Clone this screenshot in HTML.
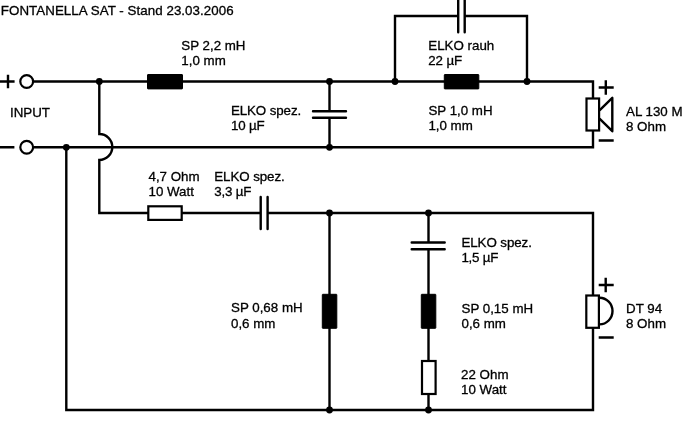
<!DOCTYPE html>
<html><head><meta charset="utf-8"><title>FONTANELLA SAT</title>
<style>
html,body{margin:0;padding:0;background:#fff;}
body{width:700px;height:421px;overflow:hidden;}
svg{display:block;will-change:transform;}
text{font-family:"Liberation Sans",Arial,sans-serif;font-size:13.33px;fill:#000;stroke:#000;stroke-width:.3;}
.w{fill:none;stroke:#000;stroke-width:2.4;stroke-linecap:butt;stroke-linejoin:miter;}
.p{fill:none;stroke:#000;stroke-width:2.4;stroke-linecap:round;}
.b{fill:#000;stroke:#000;stroke-width:1;stroke-linejoin:round;}
.r{fill:#fff;stroke:#000;stroke-width:2.2;}
.d{fill:#000;}
</style></head><body>
<svg width="700" height="421" viewBox="0 0 700 421">
<rect width="700" height="421" fill="#fff"/>
<!-- title -->
<text x="0.8" y="15" textLength="232.8">FONTANELLA SAT - Stand 23.03.2006</text>
<!-- wires -->
<path class="w" d="M33.5 81.5H593V98"/>
<path class="w" d="M33.5 147.3H593V131"/>
<path class="w" d="M99.3 81.5V134A13 13 0 0 1 99.3 160V213H148"/>
<path class="w" d="M182 213H260"/>
<path class="w" d="M268 213H593V295"/>
<path class="w" d="M66.3 147.3V410H593V328"/>
<path class="w" d="M329.5 81.5V111M329.5 118V147.3"/>
<path class="w" d="M395 81.5V16H458M465 16H527V81.5"/>
<path class="w" d="M329.5 213V410"/>
<path class="w" d="M428.5 213V242M428.5 249.5V410"/>
<!-- plus/minus input -->
<path class="w" d="M0 81.5H14.6M8 74.8V88.2M0 147.3H14.4"/>
<circle class="r" cx="26.7" cy="81.5" r="6.4"/>
<circle class="r" cx="26.7" cy="147.3" r="6.4"/>
<!-- dots -->
<circle class="d" cx="99.3" cy="81.5" r="3.4"/>
<circle class="d" cx="66.3" cy="147.3" r="3.4"/>
<circle class="d" cx="329.5" cy="81.5" r="3.4"/>
<circle class="d" cx="329.5" cy="147.3" r="3.4"/>
<circle class="d" cx="395" cy="81.5" r="3.4"/>
<circle class="d" cx="527" cy="81.5" r="3.4"/>
<circle class="d" cx="329.5" cy="213" r="3.4"/>
<circle class="d" cx="428.5" cy="213" r="3.4"/>
<circle class="d" cx="329.5" cy="410" r="3.4"/>
<circle class="d" cx="428.5" cy="410" r="3.4"/>
<!-- inductors -->
<rect class="b" x="147.5" y="74.5" width="35" height="14.4" rx="0.5"/>
<rect class="b" x="444.3" y="74.5" width="34.5" height="14.4" rx="0.5"/>
<rect class="b" x="322.3" y="294.3" width="14.5" height="34" rx="0.5"/>
<rect class="b" x="421.3" y="294.3" width="14.5" height="34" rx="0.5"/>
<!-- resistors -->
<rect class="r" x="148.3" y="206.3" width="33.4" height="13.6"/>
<rect class="r" x="422" y="361" width="13.6" height="33"/>
<!-- capacitors -->
<path class="p" d="M260.7 197V229M267.6 197V229"/>
<path class="p" d="M458.2 -2V32.3M464.7 -2V32.3"/>
<path class="p" d="M313 111.2H346M313 117.7H346"/>
<path class="p" d="M411.7 242.5H444.7M411.7 249.3H444.7"/>
<!-- woofer -->
<rect class="r" x="586.5" y="98.5" width="12.6" height="32"/>
<path class="w" style="stroke-linejoin:round" d="M599.5 110.3L612.3 97.8V131.2L599.5 118.7"/>
<path class="w" d="M598.7 87.5H613.7M605.8 80.3V94.7M598.7 140.5H613.7"/>
<!-- tweeter -->
<rect class="r" x="586.3" y="295.5" width="12.6" height="32.3"/>
<path class="w" d="M599.5 297.8A13 13.3 0 0 1 599.5 324.4"/>
<path class="w" d="M598.7 285H613.7M605.7 277.8V292.2M598.7 337.5H613.7"/>
<!-- labels -->
<text x="10" y="117.4">INPUT</text>
<text x="181.3" y="50.1">SP 2,2 mH</text><text x="181.3" y="65">1,0 mm</text>
<text x="230.9" y="115.4" textLength="70.3">ELKO spez.</text><text x="230.9" y="130" textLength="33.7">10 µF</text>
<text x="428.3" y="49.7">ELKO rauh</text><text x="428.3" y="64.7" textLength="33.8">22 µF</text>
<text x="428.4" y="115.2">SP 1,0 mH</text><text x="428.4" y="130">1,0 mm</text>
<text x="626" y="115.5">AL 130 M</text><text x="626" y="130.5">8 Ohm</text>
<text x="148.5" y="181">4,7 Ohm</text><text x="148.5" y="196">10 Watt</text>
<text x="214.3" y="181" textLength="70.4">ELKO spez.</text><text x="214.3" y="196" textLength="37.2">3,3 µF</text>
<text x="231" y="312.3">SP 0,68 mH</text><text x="231" y="327.5">0,6 mm</text>
<text x="461.4" y="247" textLength="70.5">ELKO spez.</text><text x="461.4" y="262" textLength="37">1,5 µF</text>
<text x="461.5" y="312.5">SP 0,15 mH</text><text x="461.5" y="327.7">0,6 mm</text>
<text x="461.1" y="378.6">22 Ohm</text><text x="461.1" y="393.6">10 Watt</text>
<text x="626" y="312.5">DT 94</text><text x="626" y="328">8 Ohm</text>
</svg>
</body></html>
